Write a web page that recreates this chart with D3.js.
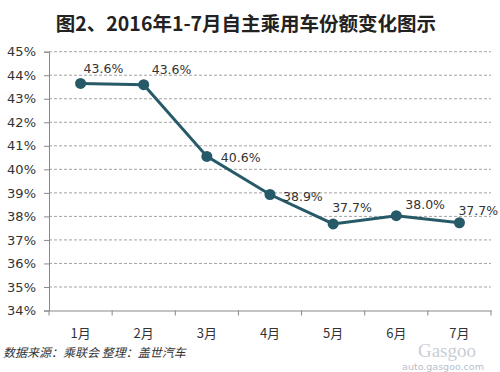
<!DOCTYPE html>
<html><head><meta charset="utf-8">
<script src="https://cdn.jsdelivr.net/npm/d3@7"></script>
<style>body{margin:0;background:#fff}svg{display:block}</style>
</head><body><svg id="c" width="500" height="372"></svg>
<script>
const categories = ["1月","2月","3月","4月","5月","6月","7月"];
const values = [43.65, 43.6, 40.55, 38.93, 37.68, 38.03, 37.73];
const valueLabels = ["43.6%","43.6%","40.6%","38.9%","37.7%","38.0%","37.7%"];
const yTicks = [34,35,36,37,38,39,40,41,42,43,44,45];
const titleText = "图2、2016年1-7月自主乘用车份额变化图示";
const sourceText = "数据来源：乘联会 整理：盖世汽车";
// label placement offsets (dx, dy) relative to each point
const labelOffsets = [[3,-15],[8,-15],[14,1],[13,2],[-1,-16],[9,-11],[-1,-12]];

const svg = d3.select("#c");
const m = {l:49, r:491, t:51.7, b:310.5};
const x = d3.scaleBand().domain(categories).range([m.l, m.r]);
const y = d3.scaleLinear().domain([34,45]).range([m.b, m.t]);
const cjk = "'Noto Sans CJK SC', sans-serif";
const num = "'DejaVu Sans', sans-serif";

svg.append("text").attr("x",246).attr("y",31).attr("text-anchor","middle")
  .attr("font-family",cjk).attr("font-weight","bold").attr("font-size",19.5)
  .attr("fill","#222").text(titleText);

// grid
svg.append("g").selectAll("line").data(yTicks.filter(d=>d>34)).join("line")
  .attr("x1",m.l).attr("x2",m.r).attr("y1",d=>y(d)).attr("y2",d=>y(d))
  .attr("stroke","#8a8a8a").attr("stroke-width",0.8).attr("stroke-dasharray","3,2");

// y axis
const ya = svg.append("g").attr("transform",`translate(${m.l},0)`)
  .call(d3.axisLeft(y).tickValues(yTicks).tickFormat(d=>d+"%").tickSize(5).tickPadding(8));
ya.select(".domain").attr("stroke","#888");
ya.selectAll(".tick line").attr("stroke","#888");
ya.selectAll("text").attr("font-family",num).attr("font-size",13).attr("fill","#333");

// x axis
const xa = svg.append("g").attr("transform",`translate(0,${m.b})`)
  .call(d3.axisBottom(x).tickSize(0).tickPadding(18));
xa.select(".domain").attr("stroke","#888");
xa.selectAll("text").attr("font-family",cjk).attr("font-size",13).attr("fill","#333");
svg.append("g").selectAll("line").data(categories.concat([null])).join("line")
  .attr("x1",(d,i)=>m.l+i*x.step()).attr("x2",(d,i)=>m.l+i*x.step())
  .attr("y1",m.b).attr("y2",m.b+5).attr("stroke","#888");

const cx = d => x(d)+x.bandwidth()/2;
const line = d3.line().x((d,i)=>cx(categories[i])).y(d=>y(d));
svg.append("path").datum(values).attr("d",line).attr("fill","none")
  .attr("stroke","#275a68").attr("stroke-width",3);
svg.append("g").selectAll("circle").data(values).join("circle")
  .attr("cx",(d,i)=>cx(categories[i])).attr("cy",d=>y(d)).attr("r",5.5)
  .attr("fill","#275a68");

svg.append("g").selectAll("text").data(values).join("text")
  .attr("x",(d,i)=>cx(categories[i])+labelOffsets[i][0])
  .attr("y",(d,i)=>y(d)+labelOffsets[i][1])
  .attr("dominant-baseline","central")
  .attr("font-family",num).attr("font-size",12.5).attr("fill","#333")
  .text((d,i)=>valueLabels[i]);

svg.append("text").attr("x",3).attr("y",357)
  .attr("font-family",cjk).attr("font-size",12).attr("font-style","italic")
  .attr("fill","#333").text(sourceText);

// watermark
svg.append("text").attr("x",447).attr("y",357).attr("text-anchor","middle")
  .attr("font-family","'Liberation Serif', serif").attr("font-size",19)
  .attr("fill","#c9ced6").text("Gasgoo");
svg.append("text").attr("x",443).attr("y",370).attr("text-anchor","middle")
  .attr("font-family",num).attr("font-size",9.5)
  .attr("fill","#b8c0cc").text("auto.gasgoo.com");
</script></body></html>
